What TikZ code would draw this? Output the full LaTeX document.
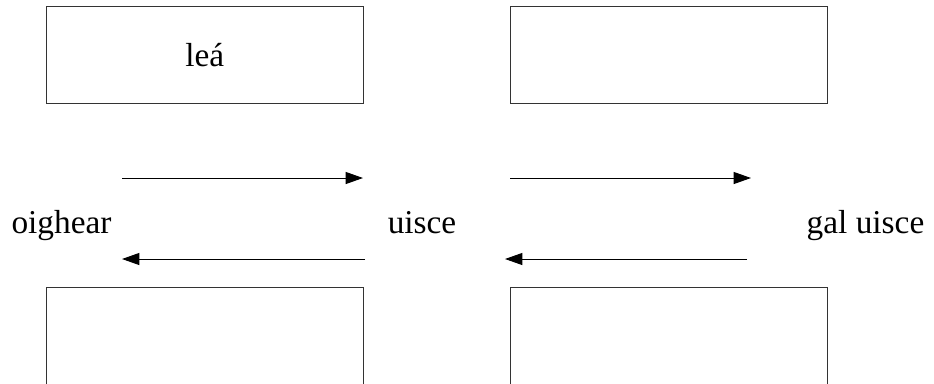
\documentclass[tikz,border=0pt]{standalone}
\usepackage{fontspec}
\setmainfont{Liberation Serif}
\usetikzlibrary{arrows.meta}
\tikzset{
  box/.style={draw=black!80, line width=0.75pt, minimum width=316.5*0.75pt, minimum height=97*0.75pt, inner sep=0pt},
  word/.style={anchor=base, inner sep=0pt, font=\fontsize{25}{30}\selectfont},
  flow/.style={draw=black, line width=0.75pt, -{Triangle[length=13pt,width=9pt]}, shorten >=0pt}
}
\begin{document}
\begin{tikzpicture}[x=0.75pt,y=0.75pt,yscale=-1,xscale=1]
\useasboundingbox (0,0) rectangle (934,383);

%Shape: Rectangle
\node[box, font=\fontsize{25}{30}\selectfont] (lea) at (204.75,55) {leá};
%Shape: Rectangle
\node[box] (boxtr) at (668.75,55) {};
%Shape: Rectangle
\node[box, minimum height=100*0.75pt] (boxbl) at (204.75,337) {};
%Shape: Rectangle
\node[box, minimum height=100*0.75pt] (boxbr) at (668.75,337) {};

%Text
\node[word] (oighear) at (61.5,233) {oighear};
\node[word] (uisce) at (422,233) {uisce};
\node[word] (galuisce) at (865.5,233) {gal uisce};

%Straight Lines
\coordinate (tls) at (122,178);
\coordinate (tle) at (363,178);
\coordinate (trs) at (510,178);
\coordinate (tre) at (751,178);
\coordinate (bls) at (365,259);
\coordinate (ble) at (122,259);
\coordinate (brs) at (747,259);
\coordinate (bre) at (505,259);
\draw[flow] (tls) -- (tle);
\draw[flow] (trs) -- (tre);
\draw[flow] (bls) -- (ble);
\draw[flow] (brs) -- (bre);

\end{tikzpicture}
\end{document}
